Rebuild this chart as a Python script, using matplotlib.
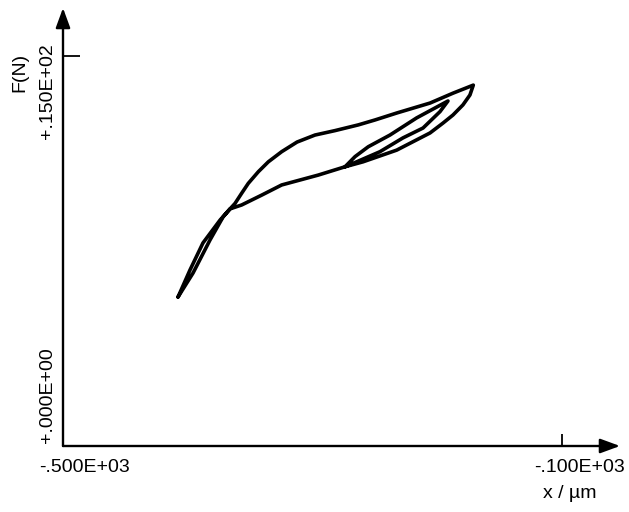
import matplotlib
matplotlib.use('agg')
import matplotlib.pyplot as plt

# hysteresis loop, force vs displacement
x_um = [-407.8, -398.2, -387.8, -374.1, -366.1, -362.1, -356.8, -351.5, -343.4,
        -335.4, -324.7, -312.4, -298.0, -282.0, -263.3, -249.9, -232.3, -205.8,
        -187.4, -171.1,
        -173.8, -179.4, -187.4, -195.4, -205.8, -232.5, -259.5, -273.9,
        -265.9, -255.3, -237.9, -216.5, -191.4,
        -197.8, -211.4, -227.5, -245.9, -264.6, -273.9,
        -295.4, -324.7, -340.7, -356.8, -366.1, -371.7, -382.2, -395.8, -407.8]
f_n = [5.73, 6.77, 7.81, 8.69, 9.12, 9.33, 9.72, 10.10, 10.55,
       10.93, 11.32, 11.69, 11.96, 12.13, 12.35, 12.54, 12.81, 13.19,
       13.57, 13.88,
       13.50, 13.12, 12.73, 12.42, 12.04, 11.38, 10.93, 10.74,
       11.13, 11.51, 11.96, 12.62, 13.27,
       12.86, 12.23, 11.85, 11.32, 10.93, 10.74,
       10.42, 10.04, 9.65, 9.27, 9.12, 8.81, 7.92, 6.65, 5.73]

x_ticks = [-500, -100]
x_tick_labels = ['-.500E+03', '-.100E+03']
y_ticks = [0, 15]
y_tick_labels = ['+.000E+00', '+.150E+02']

fnt = 'Liberation Sans'
fs = 14

fig = plt.figure(figsize=(6.29, 5.12), dpi=100)
ax = fig.add_axes([63/629, 66/512, 557/629, 438/512])
ax.set_xlim(-500, -500 + 557/1.2475)
ax.set_ylim(0, 438/26.0)

ax.plot(x_um, f_n, color='black', lw=2.6, solid_joinstyle='round', solid_capstyle='round')

for s in ax.spines:
    ax.spines[s].set_visible(False)

# axes with arrow heads
arr = dict(arrowstyle='-|>,head_length=0.6,head_width=0.22', color='black', lw=1.7,
           mutation_scale=20, shrinkA=0, shrinkB=0)
ax.annotate('', xy=(1, 0), xytext=(0, 0), xycoords='axes fraction', arrowprops=arr)
ax.annotate('', xy=(0, 1), xytext=(0, 0), xycoords='axes fraction', arrowprops=arr)

ax.set_xticks([x_ticks[1]])
ax.set_yticks([y_ticks[1]])
ax.set_xticklabels([])
ax.set_yticklabels([])
ax.tick_params(axis='x', direction='in', length=9, width=1.3)
ax.tick_params(axis='y', direction='in', length=12, width=1.3)

# tick labels, placed like the plotter did
ax.text(x_ticks[0] + 17.6, -0.81, x_tick_labels[0], ha='center', va='center',
        fontsize=fs, family=fnt, clip_on=False)
ax.text(x_ticks[1] + 14.4, -0.81, x_tick_labels[1], ha='center', va='center',
        fontsize=fs, family=fnt, clip_on=False)
ax.text(-512.8, y_ticks[0] + 1.96, y_tick_labels[0], ha='center', va='center',
        rotation=90, fontsize=fs, family=fnt, clip_on=False)
ax.text(-512.8, y_ticks[1] - 1.35, y_tick_labels[1], ha='center', va='center',
        rotation=90, fontsize=fs, family=fnt, clip_on=False)

ax.text(-534.5, 14.38, 'F(N)', ha='center', va='center', rotation=90,
        fontsize=fs, family=fnt, clip_on=False)
ax.text(-93.6, -1.81, 'x / µm', ha='center', va='center',
        fontsize=fs, family=fnt, clip_on=False)

fig.savefig('out.png', dpi=100)
